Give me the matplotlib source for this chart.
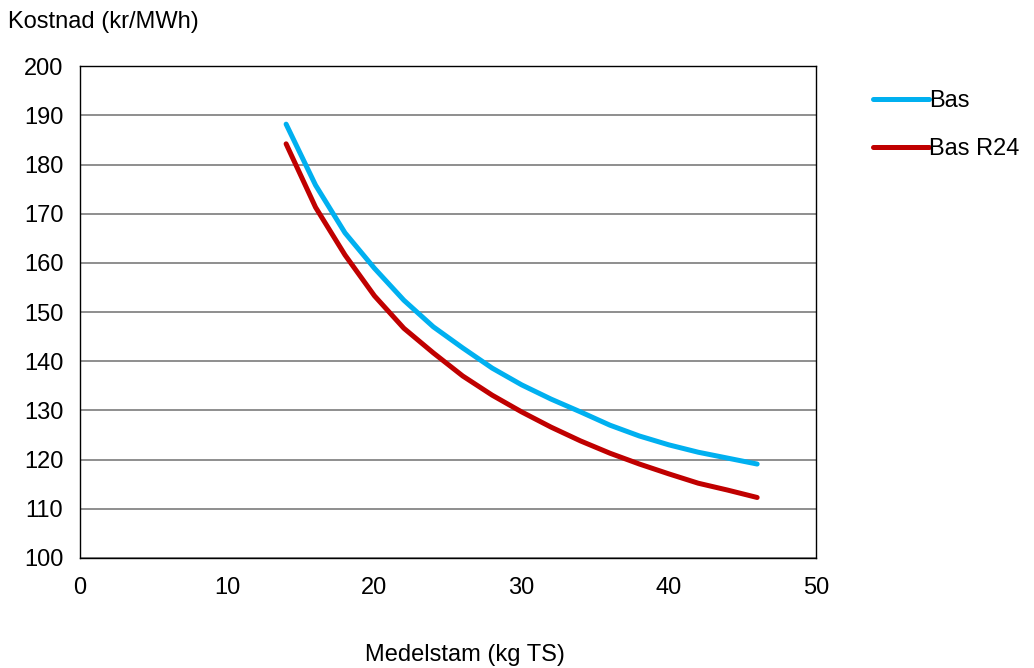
import numpy as np
import matplotlib
matplotlib.use("Agg")
import matplotlib.pyplot as plt

plt.rcParams['font.family'] = ['Liberation Sans', 'DejaVu Sans']

# data
medelstam = [14, 16, 18, 20, 22, 24, 26, 28, 30, 32, 34, 36, 38, 40, 42, 44, 46]
bas = [188.2, 175.8, 166.1, 158.9, 152.4, 147.0, 142.7, 138.6, 135.2, 132.3,
       129.7, 127.0, 124.8, 123.0, 121.5, 120.3, 119.1]
bas_r24 = [184.2, 171.3, 161.6, 153.3, 146.7, 141.7, 137.0, 133.1, 129.7, 126.6,
           123.8, 121.3, 119.1, 117.1, 115.2, 113.8, 112.3]

fs = 17

fig = plt.figure(figsize=(10.34, 6.68), dpi=100)
ax = fig.add_axes([0.0774, 0.1647, 0.7118, 0.7363])

ax.plot(medelstam, bas, color='#00b0f0', lw=3.6, solid_capstyle='round', label='Bas', zorder=3)
ax.plot(medelstam, bas_r24, color='#c00000', lw=3.6, solid_capstyle='round', label='Bas R24', zorder=3)

ax.set_xlim(0, 50)
ax.set_ylim(100, 200)
ax.set_xticks(range(0, 51, 10))
ax.set_yticks(range(100, 201, 10))
ax.yaxis.grid(True, color='#868686', lw=1.3)
ax.set_axisbelow(True)
ax.tick_params(axis='y', length=0, labelsize=fs, pad=12)
ax.tick_params(axis='x', length=0, labelsize=fs, pad=14)
for s in ax.spines.values():
    s.set_color('#000000')
    s.set_linewidth(1)

fig.text(0.008, 0.967, 'Kostnad (kr/MWh)', fontsize=fs, va='center', ha='left')
fig.text(0.45, 0.019, 'Medelstam (kg TS)', fontsize=fs, va='center', ha='center')

ax.legend(loc='upper left', bbox_to_anchor=(1.064, 0.97), frameon=False, fontsize=fs,
          handlelength=2.4, handletextpad=0.0, labelspacing=1.1, borderaxespad=0)

fig.savefig('out.png', dpi=100)
